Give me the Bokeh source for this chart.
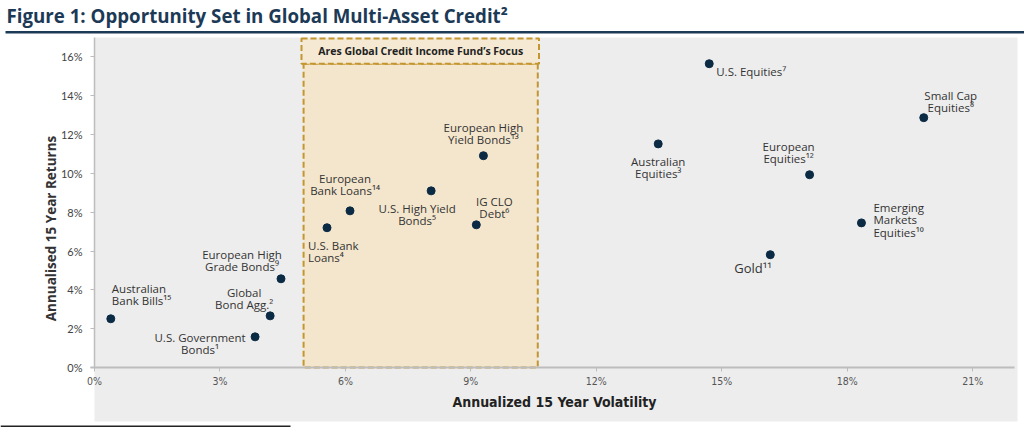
import math
from bokeh.plotting import figure
from bokeh.models import (ColumnDataSource, BoxAnnotation, Label, FixedTicker,
                          PrintfTickFormatter, Range1d, LinearAxis)
from bokeh.embed import file_html
from bokeh.resources import INLINE
from bokeh.core.properties import value

# ---------------- data ----------------
assets = [
    "Australian\nBank Bills¹⁵",
    "U.S. Government\nBonds¹",
    "Global\nBond Agg.²",
    "European High\nGrade Bonds⁹",
    "U.S. Bank\nLoans⁴",
    "European\nBank Loans¹⁴",
    "U.S. High Yield\nBonds⁵",
    "IG CLO\nDebt⁶",
    "European High\nYield Bonds¹³",
    "Australian\nEquities³",
    "U.S. Equities⁷",
    "European\nEquities¹²",
    "Small Cap\nEquities⁸",
    "Emerging\nMarkets\nEquities¹⁰",
    "Gold¹¹",
]
volatility = [0.39, 3.84, 4.20, 4.46, 5.56, 6.11, 8.05, 9.13, 9.30,
              13.48, 14.70, 17.10, 19.83, 18.34, 16.16]
returns = [2.51, 1.58, 2.66, 4.57, 7.20, 8.07, 9.10, 7.35, 10.91,
           11.52, 15.65, 9.93, 12.87, 7.45, 5.81]
x_ticks = [0, 3, 6, 9, 12, 15, 18, 21]
y_ticks = [0, 2, 4, 6, 8, 10, 12, 14, 16]
focus_vol = [5.0, 10.6]
focus_title = "Ares Global Credit Income Fund’s Focus"
chart_title = "Figure 1: Opportunity Set in Global Multi-Asset Credit²"
x_title = "Annualized 15 Year Volatility"
y_title = "Annualised 15 Year Returns"

# ---------------- label placement (styling) ----------------
dx = [1, -55, -26, -39, -19, -5, -14, 18, 0, 0, 7, -21, 27, 12, -36]
dy = [-24, 6.5, -17.5, -18, 24, -26, 24, -17, -22.5, 23.5, 8, -22, -16.5, -3, 13]
align = ["left", "center", "center", "center", "left", "center", "center", "center",
         "center", "center", "left", "center", "center", "left", "left"]
fsize = ["11.5px"] * 14 + ["13px"]

src = ColumnDataSource(dict(vol=volatility, ret=returns, label=assets,
                            dx=dx, dy=dy, align=align, fsize=fsize))

# ---------------- layout ----------------
W, H = 1024, 433
FL, FR, FT, FB = 94, 1014, 37, 367          # plot-area edges in pixels
XMAX, YMAX = 22.0, 17.0
sx = (FR - FL) / XMAX   # px per % (x)
sy = (FB - FT) / YMAX   # px per % (y)

def px(x):   # canvas pixel -> x data
    return (x - FL) / sx

def py(y):   # canvas pixel -> y data
    return (FB - y) / sy

p = figure(width=W, height=H, output_backend="svg", toolbar_location=None,
           title=None, x_axis_location=None, y_axis_location=None,
           x_range=Range1d(px(0), px(W)), y_range=Range1d(py(H), py(0)))
p.min_border_left = p.min_border_right = p.min_border_top = p.min_border_bottom = 0
p.background_fill_color = "white"
p.border_fill_color = "white"
p.outline_line_color = None
for g in p.grid:
    g.visible = False

# grey chart panel
p.add_layout(BoxAnnotation(left=0, right=px(1017), bottom=py(421), top=YMAX,
                           fill_color="#ededed", fill_alpha=1, line_alpha=0,
                           level="underlay"))
# title rule
p.add_layout(BoxAnnotation(left=px(5), right=px(W), bottom=py(33), top=py(30.5),
                           fill_color="#1c3a56", fill_alpha=1, line_alpha=0,
                           level="underlay"))
# footnote rule
p.add_layout(BoxAnnotation(left=px(0), right=px(290), bottom=py(426.5), top=py(425),
                           fill_color="#222222", fill_alpha=1, line_alpha=0,
                           level="underlay"))

# focus region
gold = "#c4962f"
p.add_layout(BoxAnnotation(left=focus_vol[0], right=focus_vol[1], bottom=0, top=15.65,
                           fill_color="#f4e6cd", fill_alpha=1,
                           line_color=gold, line_alpha=1, line_width=2,
                           line_dash="6 3", level="underlay"))
p.add_layout(BoxAnnotation(left=focus_vol[0] - 0.05, right=focus_vol[1] + 0.03,
                           bottom=15.65, top=16.95,
                           fill_color="#f5e9d4", fill_alpha=1,
                           line_color=gold, line_alpha=1, line_width=2,
                           line_dash="6 3", level="underlay"))
p.add_layout(Label(x=sum(focus_vol) / 2, y=16.3, text=focus_title,
                   text_align="center", text_baseline="middle",
                   text_font="Open Sans", text_font_style="bold",
                   text_font_size="10.5px", text_color="#222222"))

# axes drawn at fixed locations inside the canvas
cond = "'DejaVu Sans Condensed', 'Roboto', sans-serif"
ax = LinearAxis(fixed_location=0, bounds=(-0.1, XMAX),
                ticker=FixedTicker(ticks=x_ticks),
                formatter=PrintfTickFormatter(format="%d%%"))
ax.axis_line_color = "#bdbdbd"
ax.axis_line_width = 2
ax.major_tick_line_color = "#bdbdbd"
ax.major_tick_out = 4
ax.major_tick_in = 0
ax.minor_tick_line_color = None
ax.major_label_standoff = 3
ax.major_label_text_font = cond
ax.major_label_text_font_size = "10.5px"
ax.major_label_text_color = "#555555"
p.add_layout(ax, "below")

ay = LinearAxis(fixed_location=0, bounds=(0, YMAX),
                ticker=FixedTicker(ticks=y_ticks),
                formatter=PrintfTickFormatter(format="%d%%"))
ay.axis_line_color = "#bdbdbd"
ay.axis_line_width = 1.5
ay.major_tick_line_color = "#bdbdbd"
ay.major_tick_out = 4
ay.major_tick_in = 0
ay.minor_tick_line_color = None
ay.major_label_standoff = 8
ay.major_label_text_font = "Lato"
ay.major_label_text_font_size = "11px"
ay.major_label_text_color = "#444444"
p.add_layout(ay, "left")

# points and their labels
p.scatter(x="vol", y="ret", source=src, size=8, fill_color="#0b2a44",
          line_color="#0b2a44")
p.text(x="vol", y="ret", text="label", x_offset="dx", y_offset="dy",
       text_align="align", text_baseline="middle", text_font_size="fsize",
       text_font=value("Open Sans"), text_color="#333333",
       text_line_height=0.82, source=src)

# titles
p.add_layout(Label(x=px(554), y=py(401), text=x_title, text_align="center",
                   text_baseline="middle", text_font=cond, text_font_style="bold",
                   text_font_size="14px", text_color="#222222"))
p.add_layout(Label(x=px(50), y=py(228), text=y_title, angle=math.pi / 2,
                   text_align="center", text_baseline="middle",
                   text_font="Open Sans", text_font_style="bold",
                   text_font_size="13.5px", text_color="#333333"))
p.add_layout(Label(x=px(6), y=py(14.5), text=chart_title,
                   text_align="left", text_baseline="middle",
                   text_font="Open Sans", text_font_style="bold",
                   text_font_size="18.7px", text_color="#1c3a56"))

open("out.html", "w").write(file_html(p, INLINE))
